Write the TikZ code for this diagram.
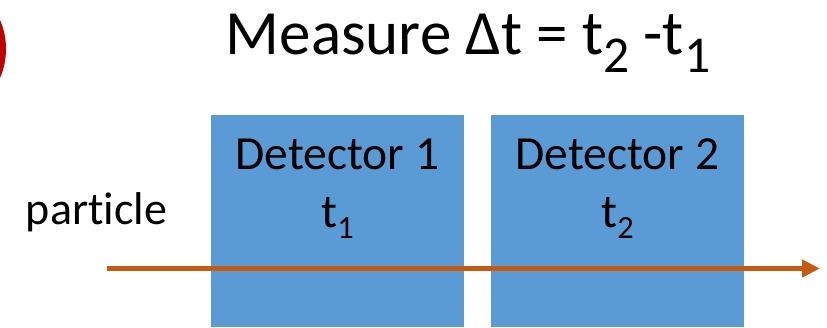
\documentclass[tikz,border=0pt]{standalone}
\usepackage{fontspec}
\setmainfont{Carlito}[Ligatures=NoCommon]
\usetikzlibrary{arrows.meta}
\definecolor{detblue}{HTML}{5B9BD5}
\definecolor{arroworange}{HTML}{C55A11}
\definecolor{markred}{HTML}{C00000}
\newcommand\mysub[3]{\raisebox{-#1em}{\scalebox{#2}{#3}}}
\tikzset{
  detbox/.style={fill=detblue, draw=none, inner sep=0pt},
  txt/.style={inner sep=0pt, anchor=base, text=black},
  bigtxt/.style={txt, font=\fontsize{63}{76}\selectfont},
  midtxt/.style={txt, font=\fontsize{47.5}{57}\selectfont},
  parttxt/.style={txt, font=\fontsize{46}{55}\selectfont},
  track/.style={draw=arroworange, line width=5pt, -{Triangle[length=18pt,width=17pt]}}
}
\begin{document}
\begin{tikzpicture}[x=1pt,y=-1pt]
\useasboundingbox (0,0) rectangle (827,327);
\begin{scope}
  \clip (0,0) rectangle (827,327);
  \fill[markred] (-67,49) circle (73);
\end{scope}
\node[bigtxt] (title) at (468,54) {Measure Δt = t\mysub{0.3}{0.82}{2} -t\mysub{0.3}{0.82}{1}};
\node[detbox, minimum width=253pt, minimum height=212pt, anchor=north west] (d1) at (211,115) {};
\node[detbox, minimum width=253pt, minimum height=212pt, anchor=north west] (d2) at (491,115) {};
\node[midtxt] (d1name) at (337.5,169) {Detector 1};
\node[midtxt] (d1time) at (337.5,227) {t\mysub{0.24}{0.68}{1}};
\node[midtxt] (d2name) at (617.5,169) {Detector 2};
\node[midtxt] (d2time) at (617.5,227) {t\mysub{0.24}{0.68}{2}};
\node[parttxt] (particle) at (96.5,224) {particle};
\coordinate (start) at (107,268.5);
\coordinate (end) at (820,268.5);
\draw[track] (start) -- (end);
\end{tikzpicture}
\end{document}
